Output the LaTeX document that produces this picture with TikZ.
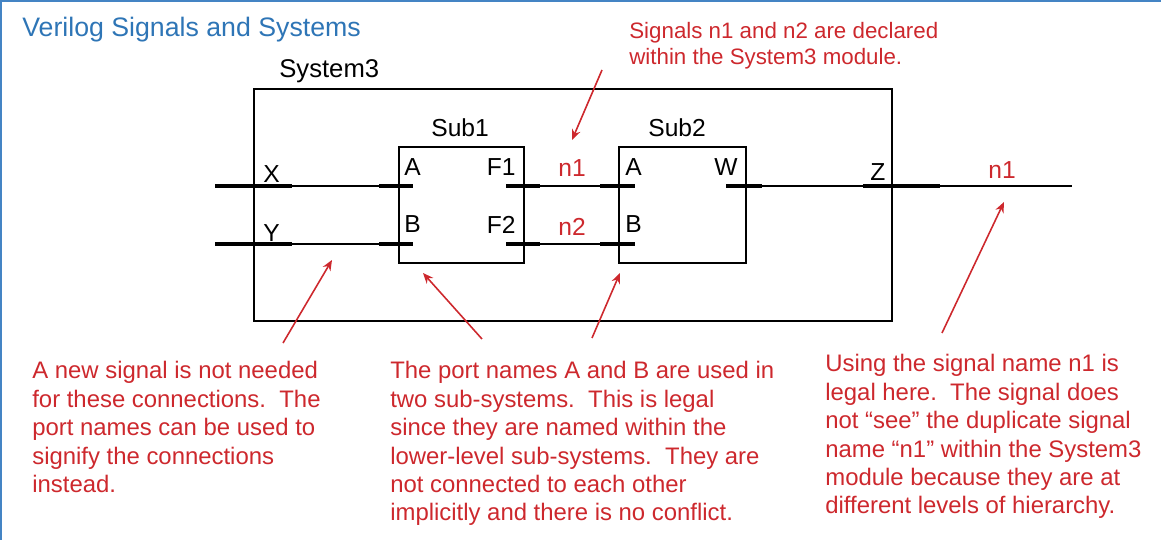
\documentclass[tikz,border=0pt]{standalone}
\usepackage{fontspec}
\setmainfont{Liberation Sans}
\usetikzlibrary{arrows.meta}
\definecolor{noteRed}{RGB}{205,40,45}
\definecolor{titleBlue}{RGB}{46,117,182}
\definecolor{frameBlue}{RGB}{68,132,196}
\tikzset{
  box/.style={draw, line width=1.5pt, inner sep=0pt, outer sep=0pt, anchor=north west},
  pin/.style={line width=2.4pt},
  wire/.style={line width=1.1pt},
  lbl/.style={inner sep=0pt, font=\fontsize{14}{16}\selectfont, anchor=base west},
  sig/.style={lbl, text=noteRed},
  note/.style={inner sep=0pt, anchor=north west, align=left, text=noteRed,
               font=\fontsize{13.6}{16.2}\selectfont},
  pointer/.style={draw=noteRed, line width=0.9pt, -{Stealth[length=6pt,width=5pt]}}
}
\begin{document}
\begin{tikzpicture}[x=0.02cm, y=-0.02cm]
  \useasboundingbox (0,0) rectangle (1161,540);
  \draw[frameBlue, line width=1.6pt] (1161,1) -- (1,1) -- (1,540);
  \node[lbl, text=titleBlue, font=\fontsize{15.2}{18}\selectfont] (title) at (22,37) {Verilog Signals and Systems};

  % module boxes
  \node[box, minimum width=12.76cm, minimum height=4.64cm] (sys3) at (254,89) {};
  \node[box, minimum width=2.5cm, minimum height=2.32cm] (sub1) at (399,147) {};
  \node[box, minimum width=2.54cm, minimum height=2.32cm] (sub2) at (619,147) {};
  \node[lbl, font=\fontsize{14.6}{17}\selectfont] (sys3-name) at (279,78) {System3};
  \node[lbl] (sub1-name) at (431,137) {Sub1};
  \node[lbl] (sub2-name) at (648,137) {Sub2};

  % port pins
  \foreach \n/\a/\b/\y in {x/215/292/186, y/215/292/244, sa/379/413/186, sb/379/413/244,
                           f1/506/540/186, f2/506/540/244, ta/600/635/186, tb/600/635/244,
                           w/726/762/186, z/863/940/186}
    {
      \coordinate (\n-l) at (\a,\y);
      \coordinate (\n-r) at (\b,\y);
      \draw[pin] (\n-l) -- (\n-r);
    }
  \coordinate (out) at (1072,186);

  % wires
  \draw[wire] (x-r) -- (sa-l);
  \draw[wire] (y-r) -- (sb-l);
  \draw[wire] (f1-r) -- (ta-l);
  \draw[wire] (f2-r) -- (tb-l);
  \draw[wire] (w-r) -- (z-l);
  \draw[wire] (z-r) -- (out);

  % port names
  \node[lbl] (lbl-x) at (263,183) {X};
  \node[lbl] (lbl-y) at (263,242) {Y};
  \node[lbl] (lbl-sa) at (404,176) {A};
  \node[lbl] (lbl-sb) at (404,233) {B};
  \node[lbl, anchor=base east] (lbl-f1) at (516,176) {F1};
  \node[lbl, anchor=base east] (lbl-f2) at (516,234) {F2};
  \node[lbl] (lbl-ta) at (625,176) {A};
  \node[lbl] (lbl-tb) at (625,233) {B};
  \node[lbl, anchor=base east] (lbl-w) at (738,176) {W};
  \node[lbl] (lbl-z) at (870,181) {Z};
  \node[sig] (sig-n1) at (558,177) {n1};
  \node[sig] (sig-n2) at (558,236) {n2};
  \node[sig] (sig-out) at (988,179) {n1};

  % notes
  \node[note, font=\fontsize{12.7}{15}\selectfont] (note-top) at (629,22)
    {Signals n1 and n2 are declared\\within the System3 module.};
  \node[note] (note-left) at (32,361)
    {A new signal is not needed\\for these connections.\ \ The\\port names can be used to\\signify the connections\\instead.};
  \node[note] (note-mid) at (390,361)
    {The port names A and B are used in\\two sub-systems.\ \ This is legal\\since they are named within the\\lower-level sub-systems.\ \ They are\\not connected to each other\\implicitly and there is no conflict.};
  \node[note] (note-right) at (825,354)
    {Using the signal name n1 is\\legal here.\ \ The signal does\\not “see” the duplicate signal\\name “n1” within the System3\\module because they are at\\different levels of hierarchy.};

  % pointers
  \coordinate (p1t) at (602,70);  \coordinate (p1h) at (572,140);
  \coordinate (p2t) at (283,343); \coordinate (p2h) at (332,260);
  \coordinate (p3t) at (482,339); \coordinate (p3h) at (423,273);
  \coordinate (p4t) at (592,338); \coordinate (p4h) at (620,273);
  \coordinate (p5t) at (942,333); \coordinate (p5h) at (1004,202);
  \foreach \t/\h in {p1t/p1h, p2t/p2h, p3t/p3h, p4t/p4h, p5t/p5h}
    \draw[pointer] (\t) -- (\h);
\end{tikzpicture}
\end{document}
